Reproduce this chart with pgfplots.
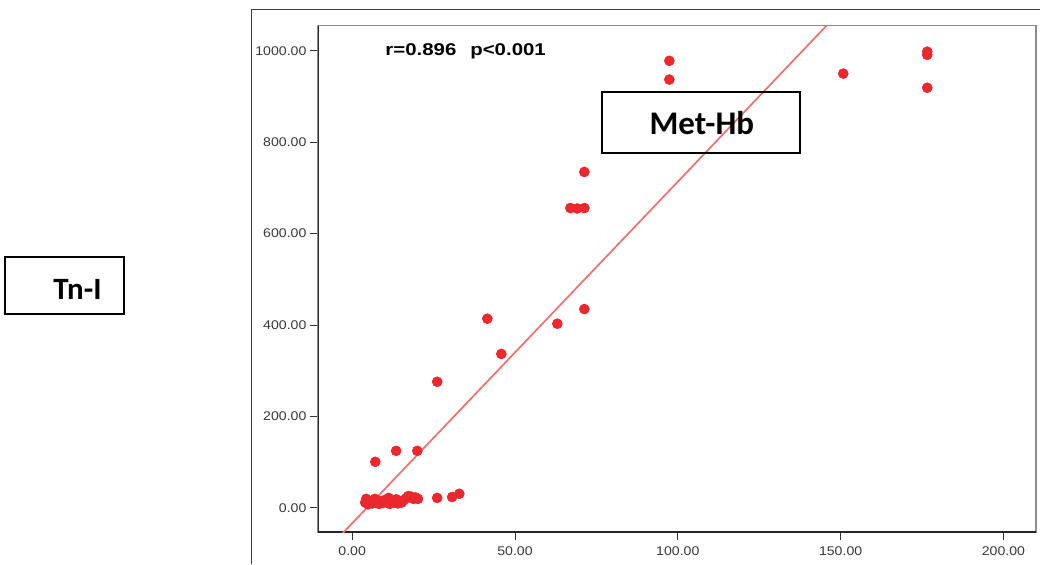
\documentclass[border=0pt]{standalone}
\usepackage{pgfplots}
\pgfplotsset{compat=1.18}
\usepackage{fontspec}
\setmainfont{Liberation Sans}
\newfontfamily\tickfont[FakeStretch=1.12]{Liberation Sans}
\newfontfamily\statfont[FakeStretch=1.2]{Liberation Sans}
\newfontfamily\boxfont{Carlito}
\definecolor{mred}{RGB}{234,40,46}
\definecolor{mline}{RGB}{240,112,112}

\begin{document}
\begin{tikzpicture}
\path[use as bounding box] (0,0) rectangle (520pt,282pt);
% outer frame (only left and top edges are visible)
\draw[line width=0.5pt, black!75] (125.5pt,0) -- (125.5pt,277pt) -- (520pt,277pt);

\begin{axis}[
    at={(159pt,16pt)}, anchor=south west,
    scale only axis,
    width=359pt, height=253.2pt,
    xmin=-10.5, xmax=210,
    ymin=-52.5, ymax=1055,
    xtick={0,50,...,200},
    ytick={0,200,...,1000},
    tick pos=left,
    tick align=outside,
    major tick length=4pt,
    axis line style={draw=black!45, line width=0.6pt},
    tick style={black!80, line width=0.5pt},
    ticklabel style={font=\tickfont\fontsize{6.3}{7}\selectfont, text=black!78},
    yticklabel style={inner sep=1.6pt},
    /pgf/number format/fixed,
    /pgf/number format/fixed zerofill,
    /pgf/number format/precision=2,
    /pgf/number format/1000 sep={},
    /pgf/number format/assume math mode=true,
]
\draw[black!85, line width=0.8pt] (rel axis cs:0,1) -- (rel axis cs:0,0) -- (rel axis cs:1,0);

% fit line
\addplot[no marks, color=mline, line width=0.85pt] coordinates {(-10.5,-111.7) (210,1535.4)};

% observations
\addplot[only marks, mark=*, mark size=2.45pt, color=mred] coordinates {
    (97.4,978) (97.4,937) (150.8,950) (176.6,998) (176.6,991) (176.6,919)
    (71.3,735) (67.0,656) (69.1,655) (71.3,656) (71.3,435) (63.0,403)
    (41.5,414) (45.8,337) (26.1,276) (7.1,101) (13.5,125) (20.0,125)
    (26.1,22) (30.7,24) (32.9,31)
    (4.0,12) (4.3,20) (4.8,8) (5.5,14) (6.2,10) (6.8,16) (7.5,12) (8.2,9)
    (8.8,15) (9.5,11) (10.2,18) (10.8,12) (11.5,9) (12.0,15) (12.8,12)
    (13.5,19) (14.0,10) (14.6,14) (15.2,12) (15.8,17) (16.5,21) (17.2,26)
    (18.0,25) (18.8,20) (19.5,23) (20.2,20) (11.2,22) (7.0,20)
};

\node[anchor=west, inner sep=0pt, font=\statfont\bfseries\fontsize{8.5}{9}\selectfont] at (axis cs:10.1,998) {r=0.896\hspace{7pt}p<0.001};
\end{axis}

% labels in boxes
\draw[line width=1pt] (301pt,205.5pt) rectangle (400pt,236pt);
\node[font=\boxfont\bfseries\fontsize{16.5}{18}\selectfont, inner sep=0pt] at (350.9pt,220.6pt) {Met-Hb};
\draw[line width=1pt] (2.5pt,125pt) rectangle (62pt,153.5pt);
\node[font=\boxfont\bfseries\fontsize{15.5}{17}\selectfont, inner sep=0pt] at (38.75pt,137.2pt) {Tn-I};
\end{tikzpicture}
\end{document}
